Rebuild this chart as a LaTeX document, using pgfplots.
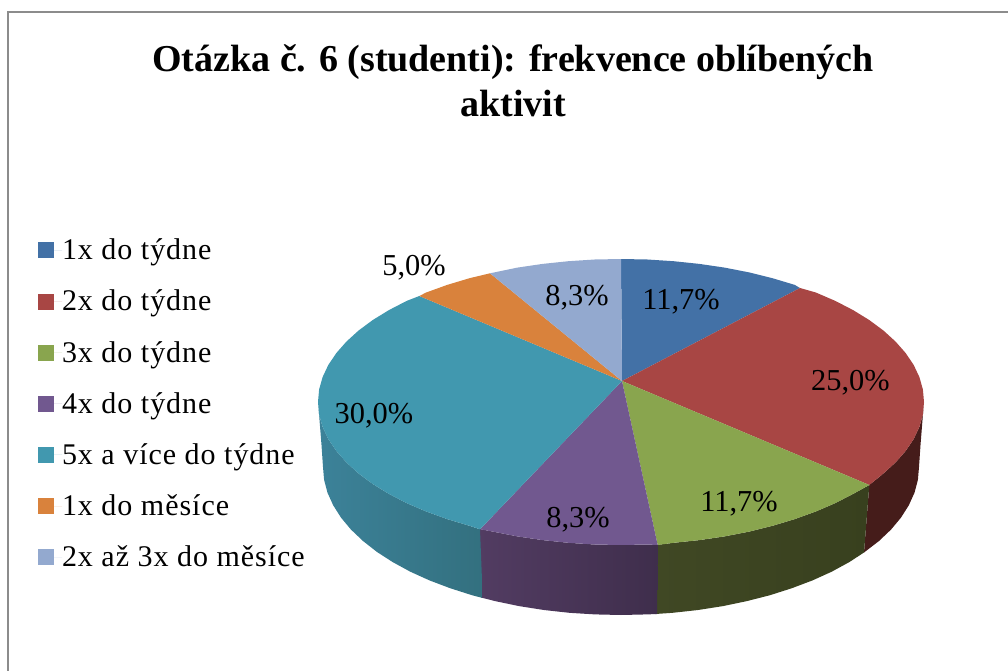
\documentclass[border=0pt]{standalone}
\usepackage{pgfplots}
\pgfplotsset{compat=1.18}
\usepackage{fontspec}
\setmainfont{Liberation Serif}
\newfontfamily\legfont[LetterSpace=3.3]{Liberation Serif}
\definecolor{cblue}{HTML}{4371A6}
\definecolor{cred}{HTML}{A84644}
\definecolor{cgreen}{HTML}{89A54E}
\definecolor{cpurple}{HTML}{71588F}
\definecolor{cteal}{HTML}{4198AF}
\definecolor{corange}{HTML}{D9823C}
\definecolor{clav}{HTML}{93A9CF}
\definecolor{frame}{HTML}{8C8C8C}
\definecolor{sred}{HTML}{451C1A}
\definecolor{sgreenL}{HTML}{404824}
\definecolor{sgreenM}{HTML}{38401E}
\definecolor{sgreenR}{HTML}{38401E}
\definecolor{spurpleL}{HTML}{523C62}
\definecolor{spurpleR}{HTML}{3F2E4C}
\definecolor{stealL}{HTML}{3C8299}
\definecolor{stealM}{HTML}{3A7E92}
\definecolor{stealR}{HTML}{33707F}
% shares: 11.7, 25.0, 11.7, 8.3, 30.0, 5.0, 8.3 per cent
\begin{document}
\begin{tikzpicture}
\path[use as bounding box] (0,0) rectangle (756pt,503.25pt);
\begin{axis}[
  at={(0,0)}, anchor=south west,
  scale only axis, width=756pt, height=503.25pt,
  xmin=0, xmax=1008, ymin=0, ymax=671, y dir=reverse,
  hide axis, clip=false,
  legend style={at={(axis cs:38,239)}, anchor=north west, draw=none, fill=none,
    inner sep=0pt, outer sep=0pt, font=\fontsize{22.5pt}{26pt}\selectfont\legfont,
    row sep=21.2pt, nodes={inner sep=0pt, outer sep=0pt}},
  legend cell align=left,
  legend image code/.code={\fill[#1] (0pt,-6pt) rectangle (12pt,6pt); \path (0pt,0pt) -- (18pt,0pt);},
]
% frame
\addplot[frame, line width=1.2pt, forget plot] coordinates {(8,671)(8,12)(1008,12)};
% side walls
\addplot[fill=sred, draw=none, forget plot] coordinates {
 (869.3,485)(883.4,473.5)(895.6,462.4)(905.7,450.9)(913.7,439)(919.4,426.9)(922.9,414.5)(924,402)
 (922.5,420)(920.5,445)(919,467)(917.9,479.9)(914.5,492.7)(908.8,505.3)(901,517.6)(891.1,529.5)(879,541)(864,552.5)} --cycle;
\addplot[draw=none, shade, left color=sgreenL, middle color=sgreenM, right color=sgreenR, forget plot] coordinates {
 (869.3,485)(853.1,493.9)(835.3,503.1)(815.8,511.5)(794.8,519.1)(772.5,525.8)(749.1,531.6)(724.6,536.4)(699.4,540.1)(673.6,542.8)(656,545)
 (655.5,614)(672.7,612.8)(698.1,610)(723,606.1)(746.9,601.1)(770,595.2)(791.9,588.2)(812.5,580.4)(831.7,571.7)(849.3,562.1)(864,552.5)} --cycle;
\addplot[draw=none, shade, left color=spurpleL, right color=spurpleR, forget plot] coordinates {
 (657.7,545)(647.4,544.5)(621,545)(594.6,544.5)(568.4,542.8)(542.6,540.1)(517.4,536.4)(492.9,531.6)(478.5,528.8)
 (481,597.5)(495.1,601.1)(519,606.1)(543.9,610)(569.3,612.8)(595,614.4)(621,615)(647,614.4)(657,614)} --cycle;
\addplot[draw=none, shade, left color=stealL, middle color=stealM, right color=stealR, forget plot] coordinates {
 (480,529.3)(469.5,525.8)(447.2,519.1)(426.2,511.5)(406.7,503.1)(388.9,493.9)(372.8,484)(358.6,473.5)(346.4,462.4)(336.3,450.9)(328.3,439)(322.6,426.9)(319.1,414.5)(318,402)
 (319.5,420)(321.5,445)(323,467)(324.1,479.9)(327.5,492.7)(333.2,505.3)(341,517.6)(350.9,529.5)(363,541)(376.9,551.9)(392.7,562.1)(410.3,571.7)(429.5,580.4)(450.1,588.2)(472,595.2)(482.7,598)} --cycle;
% top faces
\addplot[fill=cblue, draw=none] coordinates {
 (622,381)(621,259)(647.4,259.5)(673.6,261.2)(699.4,263.9)(724.6,267.6)(749.1,272.4)(772.5,278.2)(794.8,284.9)(800,288)} --cycle;
\addlegendentry{1x do týdne}
\addplot[fill=cred, draw=none] coordinates {
 (622,381)(800,288)(815.8,292.5)(835.3,300.9)(853.1,310.1)(869.2,320)(883.4,330.5)(895.6,341.6)(905.7,353.1)(913.7,365)(919.4,377.1)(922.9,389.5)(924,402)(922.9,414.5)(919.4,426.9)(913.7,439)(905.7,450.9)(895.6,462.4)(883.4,473.5)(869.3,485)} --cycle;
\addlegendentry{2x do týdne}
\addplot[fill=cgreen, draw=none] coordinates {
 (622,381)(869.3,485)(853.1,493.9)(835.3,503.1)(815.8,511.5)(794.8,519.1)(772.5,525.8)(749.1,531.6)(724.6,536.4)(699.4,540.1)(673.6,542.8)(657.7,545)} --cycle;
\addlegendentry{3x do týdne}
\addplot[fill=cpurple, draw=none] coordinates {
 (622,381)(657.7,545)(647.4,544.5)(621,545)(594.6,544.5)(568.4,542.8)(542.6,540.1)(517.4,536.4)(492.9,531.6)(480,529.3)} --cycle;
\addlegendentry{4x do týdne}
\addplot[fill=cteal, draw=none] coordinates {
 (622,381)(480,529.3)(469.5,525.8)(447.2,519.1)(426.2,511.5)(406.7,503.1)(388.9,493.9)(372.8,484)(358.6,473.5)(346.4,462.4)(336.3,450.9)(328.3,439)(322.6,426.9)(319.1,414.5)(318,402)(319.1,389.5)(322.6,377.1)(328.3,365)(336.3,353.1)(346.4,341.6)(358.6,330.5)(372.8,320)(388.9,310.1)(406.7,300.9)(419.3,296)} --cycle;
\addlegendentry{5x a více do týdne}
\addplot[fill=corange, draw=none] coordinates {
 (622,381)(419.3,296)(426.2,292.5)(447.2,284.9)(469.5,278.2)(490,273.3)} --cycle;
\addlegendentry{1x do měsíce}
\addplot[fill=clav, draw=none] coordinates {
 (622,381)(490,273.3)(517.4,267.6)(542.6,263.9)(568.4,261.2)(594.6,259.5)(621,259)} --cycle;
\addlegendentry{2x až 3x do měsíce}
% data labels
\begin{scope}[every node/.style={font=\fontsize{22.8pt}{26pt}\selectfont, inner sep=0pt}]
\node at (axis cs:681,302) {11,7\%};
\node at (axis cs:850.5,383) {25,0\%};
\node at (axis cs:739,504) {11,7\%};
\node at (axis cs:578,520) {8,3\%};
\node at (axis cs:374,416) {30,0\%};
\node at (axis cs:414,268) {5,0\%};
\node at (axis cs:577,298) {8,3\%};
\end{scope}
% title
\node[align=center, inner sep=0pt, font=\fontsize{28.5pt}{33.75pt}\selectfont\bfseries] at (axis cs:513,81)
  {Otázka č. 6 (studenti): frekvence oblíbených\\aktivit};
\end{axis}
\end{tikzpicture}
\end{document}
